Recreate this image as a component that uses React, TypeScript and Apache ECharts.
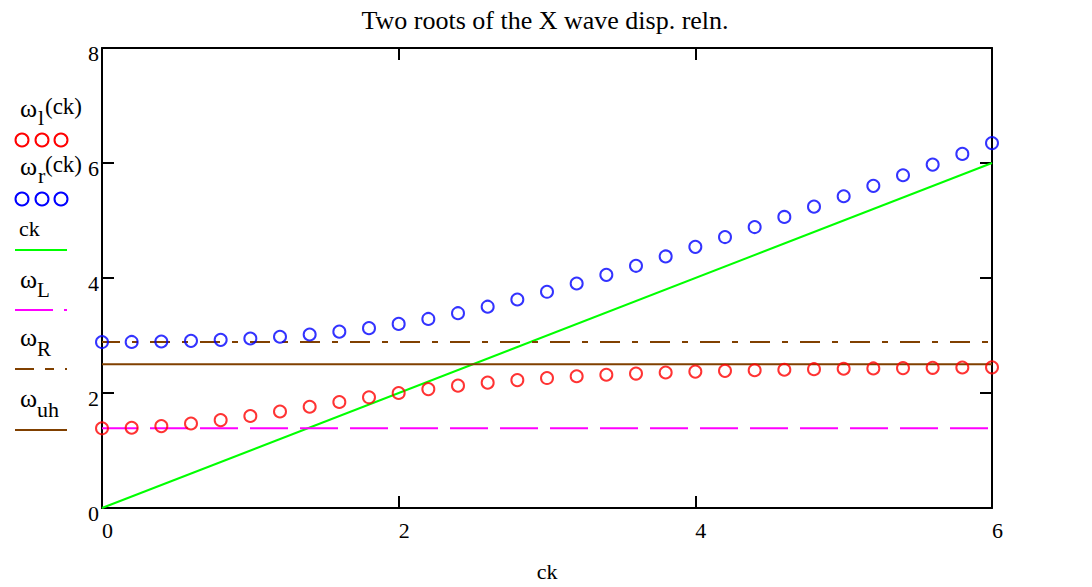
import React, { useEffect, useRef } from "react";
import * as echarts from "echarts";

// ck grid (x values of the sampled roots)
const ckValues = [
  0, 0.2, 0.4, 0.6, 0.8, 1.0, 1.2, 1.4, 1.6, 1.8, 2.0, 2.2, 2.4, 2.6, 2.8, 3.0,
  3.2, 3.4, 3.6, 3.8, 4.0, 4.2, 4.4, 4.6, 4.8, 5.0, 5.2, 5.4, 5.6, 5.8, 6.0,
];
// lower root ω_l(ck) (red circles)
const omegaLow = [
  1.386, 1.396, 1.424, 1.47, 1.529, 1.6, 1.679, 1.761, 1.844, 1.925, 2.0,
  2.068, 2.128, 2.18, 2.224, 2.26, 2.291, 2.317, 2.338, 2.356, 2.372, 2.385,
  2.396, 2.405, 2.414, 2.421, 2.427, 2.433, 2.438, 2.443, 2.446,
];
// upper root ω_r(ck) (blue circles)
const omegaHigh = [
  2.886, 2.888, 2.895, 2.907, 2.924, 2.948, 2.979, 3.018, 3.067, 3.128, 3.202,
  3.288, 3.388, 3.501, 3.626, 3.76, 3.904, 4.055, 4.212, 4.375, 4.542, 4.712,
  4.886, 5.062, 5.241, 5.421, 5.603, 5.787, 5.972, 6.158, 6.346,
];
// light line ck (endpoints)
const ckLineX = [0, 6];
const ckLineY = [0, 6];
// horizontal reference frequencies
const omegaLValue = 1.386;
const omegaRValue = 2.886;
const omegaUHValue = 2.5;
const xRange = [0, 6];
const xTicks = [0, 2, 4, 6];
const yTicks = [0, 2, 4, 6, 8];

const SERIF = "'Liberation Serif', 'Times New Roman', serif";
const BROWN = "#804000";
const MAGENTA = "#ff00ff";
const GREEN = "#00ff00";

function buildOption() {
  const gridLeft = 102;
  const gridTop = 48;
  const gridW = 890;
  const gridH = 464;

  const axisLine = { show: true, onZero: false, lineStyle: { color: "#000", width: 2 } };
  const tick = { show: true, inside: true, length: 12, lineStyle: { color: "#000", width: 2 } };

  const txt = (text: string, x: number, y: number, size: number, color = "#000") => ({
    type: "text",
    x,
    y,
    silent: true,
    style: {
      text,
      fill: color,
      font: `${size}px ${SERIF}`,
      textAlign: "left",
      textVerticalAlign: "middle",
    },
  });
  const circ = (cx: number, cy: number, color: string) => ({
    type: "circle",
    shape: { cx, cy, r: 6.5 },
    silent: true,
    style: { fill: "none", stroke: color, lineWidth: 2 },
  });
  const seg = (x1: number, x2: number, y: number, color: string) => ({
    type: "line",
    shape: { x1, y1: y, x2, y2: y },
    silent: true,
    style: { stroke: color, lineWidth: 2 },
  });

  const legendGraphics = [
    txt("ω", 20, 108.5, 26),
    txt("l", 38, 117.5, 22),
    txt("(ck)", 45, 106, 23),
    circ(22, 140, "#ff0000"),
    circ(42, 140, "#ff0000"),
    circ(61, 140, "#ff0000"),
    txt("ω", 20, 166.5, 26),
    txt("r", 38, 175.5, 22),
    txt("(ck)", 45, 164, 23),
    circ(22, 199, "#0000ff"),
    circ(42, 199, "#0000ff"),
    circ(61, 199, "#0000ff"),
    txt("ck", 19, 228.5, 22),
    seg(15, 67, 250, GREEN),
    txt("ω", 20, 279.5, 26),
    txt("L", 37, 290, 21),
    seg(15, 53, 310, MAGENTA),
    seg(64, 67, 310, MAGENTA),
    txt("ω", 20, 337.5, 26),
    txt("R", 37, 349, 21),
    seg(15, 34, 369, BROWN),
    seg(45, 54, 369, BROWN),
    seg(65, 67, 369, BROWN),
    txt("ω", 20, 398.5, 26),
    txt("uh", 37, 409.5, 22),
    seg(15, 67, 430, BROWN),
  ];

  return {
    animation: false,
    backgroundColor: "#fff",
    title: {
      text: "Two roots of the X wave disp. reln.",
      left: 540,
      top: 2,
      textAlign: "center",
      textStyle: { fontFamily: SERIF, fontSize: 26, fontWeight: "normal", color: "#000" },
    },
    grid: { left: gridLeft, top: gridTop, width: gridW, height: gridH, show: false },
    xAxis: [
      {
        type: "value",
        position: "bottom",
        min: xRange[0],
        max: xRange[1],
        interval: 2,
        name: "ck",
        nameLocation: "middle",
        nameGap: 52,
        nameTextStyle: { fontFamily: SERIF, fontSize: 22, color: "#000" },
        axisLine,
        axisTick: tick,
        splitLine: { show: false },
        axisLabel: {
          show: true,
          align: "left",
          margin: 11,
          fontFamily: SERIF,
          fontSize: 22,
          color: "#000",
          formatter: (v: number) => (xTicks.includes(v) ? String(v) : ""),
        },
      },
      {
        type: "value",
        position: "top",
        min: xRange[0],
        max: xRange[1],
        interval: 2,
        axisLine,
        axisTick: tick,
        splitLine: { show: false },
        axisLabel: { show: false },
      },
    ],
    yAxis: [
      {
        type: "value",
        position: "left",
        min: 0,
        max: 8,
        interval: 2,
        axisLine,
        axisTick: tick,
        splitLine: { show: false },
        axisLabel: {
          show: true,
          margin: 3,
          verticalAlign: "top",
          lineHeight: 11,
          fontFamily: SERIF,
          fontSize: 22,
          color: "#000",
          formatter: (v: number) => (yTicks.includes(v) ? String(v) : ""),
        },
      },
      {
        type: "value",
        position: "right",
        min: 0,
        max: 8,
        interval: 2,
        axisLine,
        axisTick: tick,
        splitLine: { show: false },
        axisLabel: { show: false },
      },
    ],
    series: [
      {
        name: "ck",
        type: "line",
        data: ckLineX.map((x, i) => [x, ckLineY[i]]),
        symbol: "none",
        clip: true,
        lineStyle: { color: GREEN, width: 2 },
        z: 2,
      },
      {
        name: "ωL",
        type: "line",
        data: xRange.map((x) => [x, omegaLValue]),
        symbol: "none",
        clip: true,
        lineStyle: { color: MAGENTA, width: 2, type: [38, 12], dashOffset: 2 },
        z: 2,
      },
      {
        name: "ωR",
        type: "line",
        data: xRange.map((x) => [x, omegaRValue]),
        symbol: "none",
        clip: true,
        lineStyle: { color: BROWN, width: 2, type: [20, 12, 6, 12], dashOffset: 2 },
        z: 2,
      },
      {
        name: "ωuh",
        type: "line",
        data: xRange.map((x) => [x, omegaUHValue]),
        symbol: "none",
        clip: true,
        lineStyle: { color: BROWN, width: 2 },
        z: 2,
      },
      {
        name: "ωl(ck)",
        type: "scatter",
        data: ckValues.map((x, i) => [x, omegaLow[i]]),
        symbol: "circle",
        symbolSize: 12,
        clip: true,
        itemStyle: { color: "rgba(0,0,0,0)", borderColor: "#ff0000", borderWidth: 2 },
        z: 3,
      },
      {
        name: "ωr(ck)",
        type: "scatter",
        data: ckValues.map((x, i) => [x, omegaHigh[i]]),
        symbol: "circle",
        symbolSize: 12,
        clip: true,
        itemStyle: { color: "rgba(0,0,0,0)", borderColor: "#0000ff", borderWidth: 2 },
        z: 3,
      },
    ],
    graphic: legendGraphics,
  };
}

export default function App() {
  const ref = useRef<HTMLDivElement>(null);
  useEffect(() => {
    if (!ref.current) return;
    const chart = echarts.init(ref.current, undefined, { renderer: "svg" });
    chart.setOption(buildOption() as any);
    return () => chart.dispose();
  }, []);
  return (
    <div
      ref={ref}
      style={{ position: "fixed", left: 0, top: 0, width: 1092, height: 587, background: "#fff" }}
    />
  );
}
